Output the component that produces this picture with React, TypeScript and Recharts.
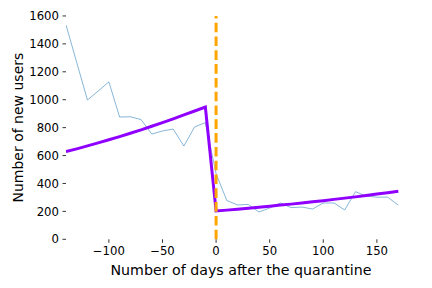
import React from 'react';
import { LineChart, Line, XAxis, YAxis, ReferenceLine, Label } from 'recharts';

const days = [-140, -130, -120, -110, -100, -90, -80, -70, -60, -50, -40, -30, -20, -10,
  0, 10, 20, 30, 40, 50, 60, 70, 80, 90, 100, 110, 120, 130, 140, 150, 160, 170];

const newUsers = [1536, 1267, 998, 1062, 1128, 876, 878, 858, 754, 776, 790, 668, 805, 836,
  470, 278, 246, 250, 196, 224, 260, 227, 231, 217, 260, 260, 210, 341, 310, 302, 302, 245];

const fitted = [628, 648, 669, 691, 713, 736, 760, 784, 810, 836, 863, 891, 919, 948,
  203, 209, 216, 223, 230, 237, 245, 252, 260, 269, 277, 286, 295, 304, 314, 324, 334, 344];

const xTicks = [-100, -50, 0, 50, 100, 150];
const yTicks = [0, 200, 400, 600, 800, 1000, 1200, 1400, 1600];

const quarantineLine = [{ x: 0, y: 0 }, { x: 0, y: 1600 }];

const xLabel = 'Number of days after the quarantine';
const yLabel = 'Number of new users';

const data = days.map((d, i) => ({ day: d, users: newUsers[i], fit: fitted[i] }));

const FONT = 'DejaVu Sans, sans-serif';

export default function App() {
  return (
    <div style={{ position: 'absolute', left: 0, top: 0, width: 432, height: 288, background: '#fff' }}>
      <LineChart
        width={432}
        height={288}
        data={data}
        margin={{ top: 4.8, right: 17.6, bottom: 0, left: 0 }}
        style={{ fontFamily: FONT }}
      >
        <XAxis
          dataKey="day"
          type="number"
          domain={[-140, 185]}
          ticks={xTicks}
          allowDataOverflow
          axisLine={false}
          tickLine={{ stroke: '#000', strokeWidth: 0.8 }}
          tickSize={3.5}
          tickMargin={3.5}
          height={48.7}
          tick={{ fill: '#000', fontSize: 11.7, fontFamily: FONT }}
          tickFormatter={(v: number) => (v < 0 ? '\u2212' + Math.abs(v) : String(v))}
        >
          <Label
            content={() => (
              <text x={241} y={275} textAnchor="middle" fontSize={14.2} fontFamily={FONT} fill="#000">
                {xLabel}
              </text>
            )}
          />
        </XAxis>
        <YAxis
          type="number"
          domain={[0, 1680]}
          ticks={yTicks}
          allowDataOverflow
          axisLine={false}
          tickLine={{ stroke: '#000', strokeWidth: 0.8 }}
          tickSize={3.5}
          tickMargin={3.5}
          width={66}
          tick={{ fill: '#000', fontSize: 11.7, fontFamily: FONT }}
        >
          <Label
            content={() => (
              <text
                x={23}
                y={127.6}
                transform="rotate(-90, 23, 127.6)"
                textAnchor="middle"
                fontSize={14}
                fontFamily={FONT}
                fill="#000"
              >
                {yLabel}
              </text>
            )}
          />
        </YAxis>
        <Line
          type="linear"
          dataKey="users"
          stroke="#1f77b4"
          strokeOpacity={0.6}
          strokeWidth={0.9}
          dot={false}
          activeDot={false}
          isAnimationActive={false}
        />
        <Line
          type="linear"
          dataKey="fit"
          stroke="#8f00ff"
          strokeWidth={3}
          dot={false}
          activeDot={false}
          isAnimationActive={false}
        />
        <ReferenceLine
          segment={quarantineLine}
          stroke="#ffa500"
          strokeWidth={3}
          strokeDasharray="9.6 4.2"
          ifOverflow="visible"
        />
      </LineChart>
    </div>
  );
}
